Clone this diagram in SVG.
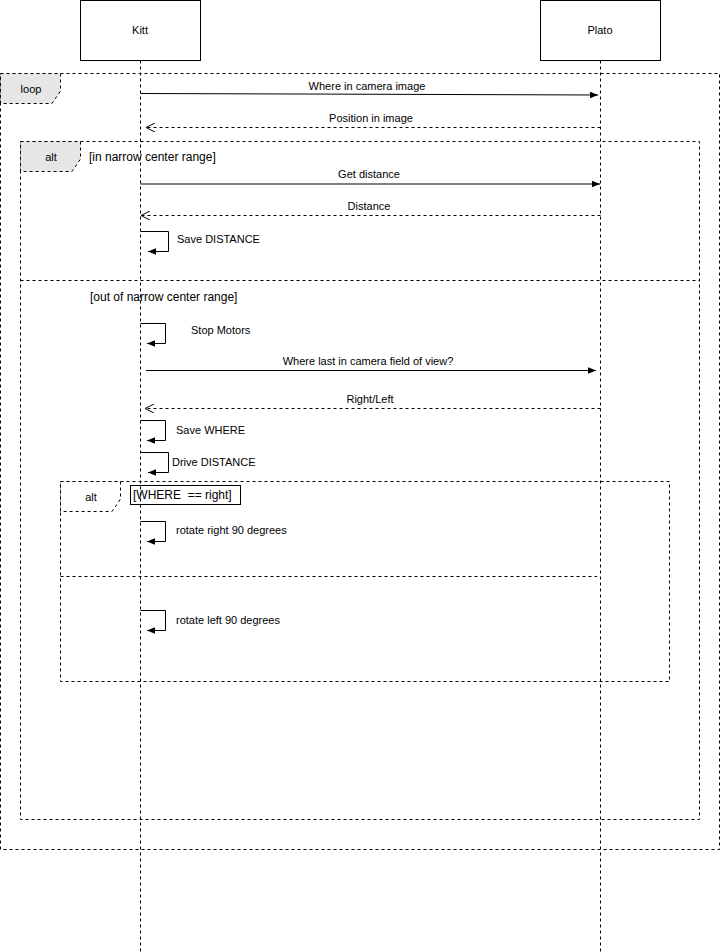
<svg xmlns="http://www.w3.org/2000/svg" width="722" height="952" viewBox="0 0 722 952">
  <style>
    text { font-family: "Liberation Sans", Arial, Helvetica, sans-serif; font-size: 11px; fill: #000; }
    .mid { text-anchor: middle; }
    .guard { font-size: 12px; }
    .frame { fill: none; stroke: #000; stroke-width: 1; stroke-dasharray: 3 3; }
    .tab { fill: #e6e6e6; stroke: #000; stroke-width: 1; stroke-dasharray: 3 3; }
    .tabw { fill: #fff; stroke: #000; stroke-width: 1; stroke-dasharray: 3 3; }
    .life { fill: none; stroke: #000; stroke-width: 1; stroke-dasharray: 3 3; }
    .call { fill: none; stroke: #000; stroke-width: 1; marker-end: url(#solidHead); }
    .ret { fill: none; stroke: #000; stroke-width: 1; stroke-dasharray: 3 3; marker-end: url(#openHead); }
    .actor { fill: #fff; stroke: #000; stroke-width: 1; }
  </style>
  <defs>
    <marker id="solidHead" viewBox="0 0 10 10" refX="10" refY="5" markerWidth="8" markerHeight="8" markerUnits="userSpaceOnUse" orient="auto">
      <path d="M0,1 L10,5 L0,9 z" fill="#000"/>
    </marker>
    <marker id="openHead" viewBox="0 0 10 10" refX="10" refY="5" markerWidth="9" markerHeight="9" markerUnits="userSpaceOnUse" orient="auto">
      <path d="M0,0 L10,5 L0,10" fill="none" stroke="#000" stroke-width="1.1"/>
    </marker>
  </defs>

  <!-- combined fragments -->
  <g id="frame-loop">
    <rect class="frame" x="0.5" y="73.5" width="719" height="776"/>
    <path class="tab" d="M0.5,73.5 H60.5 V91 L52,103.5 H0.5 Z"/>
    <text class="mid" x="31" y="93">loop</text>
  </g>
  <g id="frame-alt-range">
    <rect class="frame" x="20.5" y="141.5" width="679" height="678"/>
    <path class="tab" d="M20.5,141.5 H80.5 V159 L72,171.5 H20.5 Z"/>
    <text class="mid" x="51" y="161">alt</text>
    <text class="guard" x="89" y="161">[in narrow center range]</text>
    <line class="frame" x1="20.5" y1="280.5" x2="699.5" y2="280.5"/>
    <text class="guard" x="90" y="301">[out of narrow center range]</text>
  </g>
  <g id="frame-alt-where">
    <rect class="frame" x="60.5" y="481.5" width="609" height="200"/>
    <path class="tabw" d="M60.5,481.5 H120.5 V499 L112,511.5 H60.5 Z"/>
    <text class="mid" x="91" y="501">alt</text>
    <rect x="130.5" y="485.5" width="110" height="19" fill="#fff" stroke="#000" stroke-width="1"/>
    <text class="guard" x="133" y="499" xml:space="preserve">[WHERE  == right]</text>
    <line class="frame" x1="60.5" y1="576.5" x2="597" y2="576.5"/>
  </g>

  <!-- participants -->
  <g id="kitt">
    <rect class="actor" x="80.5" y="0.5" width="120" height="60"/>
    <text class="mid" x="140" y="34">Kitt</text>
  </g>
  <g id="plato">
    <rect class="actor" x="540.5" y="0.5" width="120" height="60"/>
    <text class="mid" x="600" y="34">Plato</text>
  </g>

  <!-- messages -->
  <g id="connectors">
    <path class="call" d="M140.5,93.5 L598,95"/>
    <text class="mid" x="367" y="90">Where in camera image</text>

    <path class="ret" d="M600.5,127.5 H146"/>
    <text class="mid" x="371" y="122">Position in image</text>

    <path class="call" d="M140.5,184 H600"/>
    <text class="mid" x="369" y="178">Get distance</text>

    <path class="ret" d="M600.5,215.5 H141"/>
    <text class="mid" x="369" y="210">Distance</text>

    <path class="call" d="M140.5,231.5 H168.5 V251.5 H148"/>
    <text x="177" y="243">Save DISTANCE</text>

    <path class="call" d="M140.5,323.5 H165.5 V343.5 H147"/>
    <text x="191" y="334">Stop Motors</text>

    <path class="call" d="M146,370.5 H596"/>
    <text class="mid" x="368" y="365">Where last in camera field of view?</text>

    <path class="ret" d="M600.5,408.5 H145"/>
    <text class="mid" x="370" y="403">Right/Left</text>

    <path class="call" d="M140.5,420.5 H165.5 V440.5 H147"/>
    <text x="176" y="434">Save WHERE</text>

    <path class="call" d="M140.5,452.5 H168.5 V472.5 H148"/>
    <text x="172" y="466">Drive DISTANCE</text>

    <path class="call" d="M140.5,521.5 H165.5 V541.5 H147"/>
    <text x="176" y="534">rotate right 90 degrees</text>

    <path class="call" d="M140.5,610.5 H165.5 V630.5 H147"/>
    <text x="176" y="624">rotate left 90 degrees</text>
  </g>

  <!-- lifelines drawn over the fragments -->
  <g id="lifelines">
    <line class="life" x1="140.5" y1="60.5" x2="140.5" y2="952"/>
    <line class="life" x1="600.5" y1="60.5" x2="600.5" y2="952"/>
  </g>
</svg>
